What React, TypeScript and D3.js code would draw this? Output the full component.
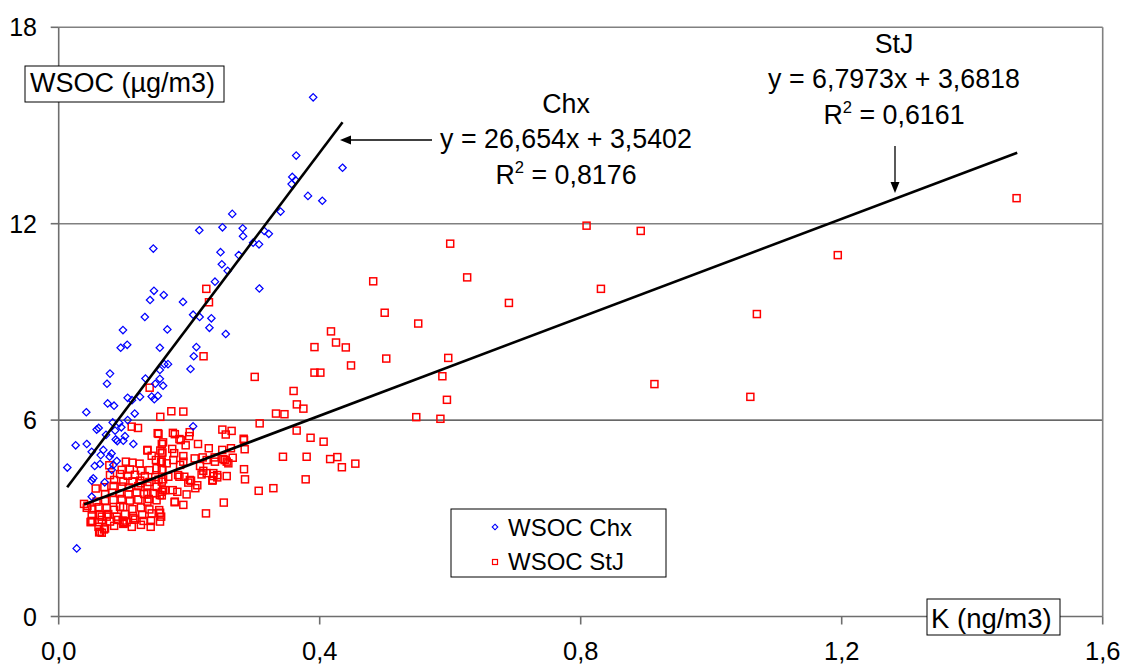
import React, { useEffect } from "react";
import * as d3 from "d3";

// K (ng/m3), WSOC (µg/m3) pairs — WSOC Chx
const chxData: [number, number][] = [
  [0.390, 15.86], [0.364, 14.08], [0.435, 13.71], [0.358, 13.43], [0.363, 13.33], [0.357, 13.21],
  [0.382, 12.85], [0.404, 12.70], [0.340, 12.37], [0.266, 12.30], [0.2155, 11.80], [0.251, 11.89],
  [0.282, 11.86], [0.2825, 11.62], [0.315, 11.78], [0.322, 11.69], [0.145, 11.24], [0.248, 11.13],
  [0.276, 11.04], [0.298, 11.42], [0.307, 11.37], [0.250, 10.76], [0.259, 10.56], [0.2395, 10.23],
  [0.3075, 10.02], [0.146, 9.95], [0.161, 9.82], [0.1905, 9.61], [0.140, 9.67], [0.132, 9.15],
  [0.206, 9.22], [0.216, 9.15], [0.234, 9.11], [0.231, 8.82], [0.0985, 8.75], [0.1665, 8.77],
  [0.256, 8.63], [0.095, 8.21], [0.105, 8.30], [0.155, 8.21], [0.211, 8.23], [0.207, 7.95],
  [0.202, 7.56], [0.0786, 7.42], [0.074, 7.11], [0.162, 7.71], [0.1675, 7.71], [0.155, 7.53],
  [0.155, 7.26], [0.133, 7.27], [0.148, 7.11], [0.160, 7.05], [0.1425, 6.72], [0.152, 6.74],
  [0.1465, 6.64], [0.1057, 6.68], [0.1123, 6.61], [0.1246, 6.71], [0.075, 6.51], [0.0848, 6.44],
  [0.0423, 6.24], [0.1165, 6.20], [0.1057, 6.00], [0.0828, 5.93], [0.206, 5.81], [0.0582, 5.71],
  [0.0613, 5.76], [0.0864, 5.68], [0.096, 5.78], [0.026, 5.23], [0.043, 5.27], [0.0506, 5.03],
  [0.0725, 5.55], [0.0874, 5.41], [0.0898, 5.36], [0.1016, 5.51], [0.1144, 5.27], [0.0644, 4.93],
  [0.0684, 5.09], [0.078, 4.88], [0.089, 4.75], [0.0633, 4.66], [0.0552, 4.60], [0.0132, 4.55],
  [0.053, 4.22], [0.0506, 4.15], [0.0705, 4.10], [0.0506, 3.66], [0.0276, 2.08], [0.081, 4.98],
  [0.0837, 4.63], [0.0812, 4.48], [0.0929, 5.91], [0.099, 5.37],
];

// WSOC StJ
const stjData: [number, number][] = [
  [0.809, 11.94], [0.892, 11.78], [0.600, 11.39], [0.482, 10.24], [0.626, 10.36], [0.831, 10.01],
  [0.690, 9.58], [0.4996, 9.28], [0.551, 8.95], [0.4173, 8.71], [0.392, 8.23], [0.425, 8.37],
  [0.440, 8.22], [0.448, 7.67], [0.502, 7.88], [0.597, 7.90], [0.588, 7.34], [0.392, 7.45],
  [0.401, 7.45], [0.595, 6.62], [0.375, 6.35], [0.913, 7.10], [0.548, 6.09], [0.585, 6.04],
  [0.386, 5.46], [0.406, 5.34], [0.380, 4.88], [0.416, 4.81], [0.427, 4.87], [0.434, 4.56],
  [0.4546, 4.67], [0.3785, 4.19], [1.468, 12.78], [1.194, 11.04], [1.070, 9.24], [1.060, 6.71],
  [0.2262, 10.01], [0.2303, 9.60], [0.222, 7.95], [0.3004, 7.32], [0.360, 6.89], [0.365, 6.48],
  [0.333, 6.20], [0.346, 6.18], [0.1394, 6.99], [0.1726, 6.27], [0.191, 6.26], [0.1557, 6.10],
  [0.308, 5.90], [0.3647, 5.68], [0.1119, 5.80], [0.1215, 5.76], [0.1517, 5.60], [0.175, 5.61],
  [0.178, 5.57], [0.2008, 5.63], [0.200, 5.51], [0.2508, 5.71], [0.265, 5.67], [0.256, 5.56],
  [0.2835, 5.43], [0.160, 5.32], [0.185, 5.42], [0.1946, 5.23], [0.2135, 5.27], [0.230, 5.14],
  [0.2507, 5.09], [0.264, 5.14], [0.285, 5.11], [0.136, 5.09], [0.1557, 5.07], [0.158, 4.99],
  [0.174, 5.12], [0.177, 4.99], [0.191, 4.90], [0.2084, 4.83], [0.2207, 4.86], [0.239, 4.86],
  [0.2544, 4.78], [0.2667, 4.85], [0.3437, 4.88], [0.329, 3.92], [0.3065, 3.84], [0.2855, 4.19],
  [0.284, 4.50], [0.2575, 4.29], [0.253, 3.48], [0.2257, 3.15], [0.191, 3.41], [0.1777, 3.49],
  [0.1553, 2.90], [0.1415, 2.92], [0.1553, 3.17], [0.196, 3.73], [0.1818, 3.81], [0.1747, 3.86],
  [0.2124, 4.01], [0.2094, 3.92], [0.2355, 4.15], [0.237, 4.29], [0.219, 4.34], [0.2216, 4.45],
  [0.2028, 4.15], [0.1986, 4.09], [0.1925, 4.27], [0.185, 4.27], [0.160, 3.86], [0.136, 3.76],
  [0.138, 3.59], [0.1257, 4.07], [0.094, 3.35], [0.100, 2.85], [0.098, 2.93], [0.0694, 2.66],
  [0.062, 2.57], [0.0495, 2.90], [0.0506, 3.10], [0.066, 3.05], [0.0736, 3.05], [0.0388, 3.44],
  [0.043, 3.32], [0.158, 3.70], [0.0776, 4.62], [0.0567, 3.91], [0.187, 5.39], [0.284, 5.39],
  [0.158, 4.73], [0.158, 4.48], [0.1757, 4.78], [0.1655, 4.68], [0.191, 4.73], [0.2268, 4.78],
  [0.2395, 4.73], [0.2523, 4.81], [0.2166, 4.60], [0.2268, 4.38], [0.237, 4.38], [0.243, 4.32],
  [0.2575, 4.73], [0.26, 4.68], [0.186, 4.63], [0.183, 4.32], [0.168, 4.27], [0.160, 4.19],
  [0.158, 4.12], [0.201, 4.17], [0.163, 3.86], [0.236, 4.17], [0.243, 4.25], [0.155, 3.71],
  [0.155, 3.15], [0.178, 3.51], [0.0633, 2.59], [0.049, 2.88], [0.0618, 2.88], [0.099, 2.88],
  [0.1144, 3.00],
  [0.153, 5.58], [0.158, 5.27], [0.159, 5.01],
  [0.103, 4.73], [0.113, 4.70], [0.124, 4.67], [0.136, 5.07], [0.1425, 4.91], [0.149, 4.78], [0.157, 4.73],
  [0.0965, 4.48], [0.109, 4.49], [0.126, 4.46], [0.139, 4.47], [0.150, 4.53], [0.159, 4.48],
  [0.0786, 4.32], [0.094, 4.35], [0.106, 4.30], [0.117, 4.33], [0.132, 4.29], [0.148, 4.26],
  [0.085, 4.17], [0.099, 4.12], [0.113, 4.13], [0.125, 4.15], [0.139, 4.11], [0.153, 4.18],
  [0.070, 3.95], [0.084, 3.99], [0.0965, 3.97], [0.108, 3.94], [0.122, 3.98], [0.136, 4.00], [0.150, 3.96],
  [0.071, 3.74], [0.082, 3.78], [0.094, 3.76], [0.107, 3.73], [0.1195, 3.79], [0.131, 3.74], [0.145, 3.77], [0.158, 3.81],
  [0.044, 3.38], [0.058, 3.51], [0.071, 3.54], [0.084, 3.56], [0.0965, 3.59], [0.109, 3.54], [0.122, 3.57], [0.136, 3.51], [0.150, 3.55],
  [0.0515, 3.27], [0.061, 3.34], [0.0735, 3.31], [0.085, 3.26], [0.099, 3.34], [0.113, 3.28], [0.126, 3.33], [0.139, 3.27], [0.154, 3.25],
  [0.063, 3.10], [0.076, 3.13], [0.089, 3.05], [0.1016, 3.13], [0.114, 3.07], [0.128, 3.10], [0.1425, 3.15], [0.157, 3.05],
  [0.0515, 2.92], [0.066, 2.95], [0.0786, 2.90], [0.091, 2.95], [0.104, 2.88], [0.117, 2.96], [0.130, 2.92],
  [0.061, 2.74], [0.071, 2.69], [0.085, 2.77], [0.099, 2.83], [0.112, 2.74], [0.126, 2.80], [0.141, 2.74],
  [0.066, 2.56],
];

// Linear trend lines (as drawn): [K, WSOC] endpoints
const chxTrend: [number, number][] = [[0.013, 3.95], [0.435, 15.10]];
const stjTrend: [number, number][] = [[0.039, 3.42], [1.469, 14.17]];

const xTicks = [0, 0.4, 0.8, 1.2, 1.6];
const xTickLabels = ["0,0", "0,4", "0,8", "1,2", "1,6"];
const yTicks = [0, 6, 12, 18];
const yTickLabels = ["0", "6", "12", "18"];
const seriesNames = ["WSOC Chx", "WSOC StJ"];
const chxEq = ["Chx", "y = 26,654x + 3,5402", "0,8176"];
const stjEq = ["StJ", "y = 6,7973x + 3,6818", "0,6161"];
const yAxisTitle = "WSOC (µg/m3)";
const xAxisTitle = "K (ng/m3)";

const W = 1126;
const H = 668;
const FONT = "'Liberation Sans', Arial, sans-serif";
const BLUE = "#0000FF";
const RED = "#FF0000";

function Diamond({ cx, cy, r, sw }: { cx: number; cy: number; r: number; sw: number }) {
  return (
    <path
      d={`M${cx},${cy - r}L${cx + r},${cy}L${cx},${cy + r}L${cx - r},${cy}Z`}
      fill="none"
      stroke={BLUE}
      strokeWidth={sw}
    />
  );
}

function Square({ cx, cy, s, sw }: { cx: number; cy: number; s: number; sw: number }) {
  return (
    <rect x={cx - s / 2} y={cy - s / 2} width={s} height={s} fill="none" stroke={RED} strokeWidth={sw} />
  );
}

function EqBlock({ cx, lines, base, fs }: { cx: number; lines: string[]; base: number; fs: number }) {
  return (
    <g fontFamily={FONT} fontSize={fs} textAnchor="middle" fill="#000">
      <text x={cx} y={base}>{lines[0]}</text>
      <text x={cx} y={base + 35}>{lines[1]}</text>
      <text x={cx} y={base + 71}>
        R<tspan fontSize={fs * 0.62} dy={-11}>2</tspan>
        <tspan dy={11}>{" = " + lines[2]}</tspan>
      </text>
    </g>
  );
}

export default function App() {
  useEffect(() => {
    document.body.style.margin = "0";
    document.body.style.overflow = "hidden";
  }, []);

  const x = d3.scaleLinear().domain([0, 1.6]).range([58.7, 1102.7]);
  const y = d3.scaleLinear().domain([0, 18]).range([616.5, 27.3]);
  const line = d3
    .line<[number, number]>()
    .x((d) => x(d[0]))
    .y((d) => y(d[1]));

  const x0 = x(0);
  const x1 = x(1.6);
  const yTop = y(18);
  const yBot = y(0);

  return (
    <svg
      width={W}
      height={H}
      viewBox={`0 0 ${W} ${H}`}
      style={{ position: "absolute", left: 0, top: 0, background: "#fff" }}
    >
      <rect x={0} y={0} width={W} height={H} fill="#fff" />
      {/* gridlines */}
      {yTicks
        .filter((t) => t > 0)
        .map((t) => (
          <line
            key={"g" + t}
            x1={x0}
            x2={x1}
            y1={y(t)}
            y2={y(t)}
            stroke={t === 6 ? "#000" : "#808080"}
            strokeWidth={t === 6 ? 1 : 1.6}
          />
        ))}
      {/* right border */}
      <line x1={x1} x2={x1} y1={yTop} y2={yBot} stroke="#808080" strokeWidth={1.6} />
      {/* axes */}
      <line x1={x0} x2={x0} y1={yTop} y2={yBot} stroke="#6e6e6e" strokeWidth={1.6} />
      <line x1={x0} x2={x1} y1={yBot} y2={yBot} stroke="#6e6e6e" strokeWidth={1.6} />
      {yTicks.map((t) => (
        <line key={"yt" + t} x1={x0 - 8} x2={x0} y1={y(t)} y2={y(t)} stroke="#6e6e6e" strokeWidth={1.6} />
      ))}
      {xTicks.map((t) => (
        <line key={"xt" + t} x1={x(t)} x2={x(t)} y1={yBot} y2={yBot + 8} stroke="#6e6e6e" strokeWidth={1.6} />
      ))}
      <g fontFamily={FONT} fontSize={25} fill="#000">
        {yTicks.map((t, i) => (
          <text key={"yl" + t} x={37} y={y(t) + 9} textAnchor="end">
            {yTickLabels[i]}
          </text>
        ))}
        {xTicks.map((t, i) => (
          <text key={"xl" + t} x={x(t)} y={660} textAnchor="middle" fontSize={25.5}>
            {xTickLabels[i]}
          </text>
        ))}
      </g>

      {/* points */}
      <g>
        {stjData.map((d, i) => (
          <Square key={"s" + i} cx={x(d[0])} cy={y(d[1])} s={7} sw={1.5} />
        ))}
      </g>
      <g>
        {chxData.map((d, i) => (
          <Diamond key={"c" + i} cx={x(d[0])} cy={y(d[1])} r={3.7} sw={1.25} />
        ))}
      </g>

      {/* trend lines */}
      <path d={line(chxTrend) || ""} stroke="#000" strokeWidth={2.6} fill="none" />
      <path d={line(stjTrend) || ""} stroke="#000" strokeWidth={2.6} fill="none" />

      {/* annotations */}
      <EqBlock cx={566} base={113} lines={chxEq} fs={26.8} />
      <EqBlock cx={894} base={53} lines={stjEq} fs={26.8} />
      {/* Chx arrow */}
      <line x1={432} x2={349} y1={140} y2={140} stroke="#000" strokeWidth={1.3} />
      <path d="M340,140L351,135.5L351,144.5Z" fill="#000" />
      {/* StJ arrow */}
      <line x1={895} x2={895} y1={146} y2={184} stroke="#000" strokeWidth={1.3} />
      <path d="M895,193L890.5,182L899.5,182Z" fill="#000" />

      {/* axis title boxes */}
      <rect x={25} y={66} width={199} height={36} fill="#fff" stroke="#000" strokeWidth={1} />
      <text x={30} y={92} fontFamily={FONT} fontSize={27} fill="#000">
        {yAxisTitle}
      </text>
      <rect x={927} y={599} width={133} height={36} fill="#fff" stroke="#000" strokeWidth={1} />
      <text x={931} y={628} fontFamily={FONT} fontSize={27.5} fill="#000">
        {xAxisTitle}
      </text>

      {/* legend */}
      <rect x={451} y={509} width={215} height={68} fill="#fff" stroke="#000" strokeWidth={1} />
      <Diamond cx={495} cy={527} r={2.8} sw={1.1} />
      <Square cx={495} cy={562} s={5} sw={1.2} />
      <g fontFamily={FONT} fontSize={24} fill="#000">
        <text x={508} y={535.5}>{seriesNames[0]}</text>
        <text x={508} y={570}>{seriesNames[1]}</text>
      </g>
    </svg>
  );
}
